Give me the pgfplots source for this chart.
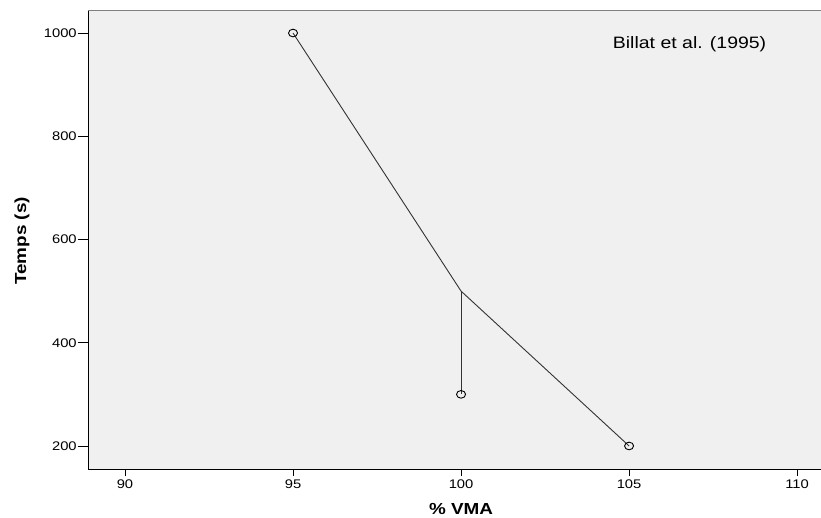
\documentclass[border=0pt]{standalone}
\usepackage{pgfplots}
\pgfplotsset{compat=1.18}
\usepackage{fontspec}
\setmainfont{Liberation Sans}[FakeStretch=1.18]
\definecolor{panel}{HTML}{F0F0F0}
\definecolor{curve}{HTML}{333333}
\begin{document}
\begin{tikzpicture}
\begin{axis}[
  scale only axis,
  width=733pt, height=459pt,
  xmin=88.9, xmax=110.71,
  ymin=155.4, ymax=1044.6,
  axis background/.style={fill=panel},
  axis x line=bottom, axis y line=left,
  axis line style={-, black, line width=0.9pt},
  xtick={90,95,100,105,110},
  ytick={200,400,600,800,1000},
  tick align=outside,
  xtick style={black, line width=0.9pt, /pgfplots/major tick length=7pt},
  ytick style={black, line width=0.9pt, /pgfplots/major tick length=10pt},
  tick label style={font=\fontsize{12.5}{14}\selectfont},
  /pgf/number format/assume math mode=true,
  /pgf/number format/set thousands separator={},
  xticklabel style={yshift=-2.5pt},
  yticklabel style={xshift=-3.5pt},
  xlabel={\bfseries\% VMA},
  ylabel={\bfseries Temps (s)},
  label style={font=\fontsize{16}{18}\selectfont},
  xlabel style={at={(axis description cs:0.509,0)}, anchor=center, yshift=-40pt},
  ylabel style={at={(axis description cs:0,0.497)}, anchor=center, yshift=66pt},
  clip=false,
]
% connecting line through the series
\addplot[curve, line width=0.9pt, no marks] coordinates {(95,1000) (100,500) (105,200)};
\addplot[curve, line width=0.9pt, no marks] coordinates {(100,500) (100,300)};
% observed points
\addplot[only marks, mark=o, mark size=4.5pt, mark options={black, line width=0.9pt, yscale=0.85}]
  coordinates {(95,1000) (100,300) (105,200)};
\draw[gray, line width=0.8pt] (rel axis cs:0,1) -- (rel axis cs:1,1);
\node[font=\fontsize{16.5}{18}\selectfont, anchor=center] at (axis cs:106.8,978.7) {Billat et al. (1995)};
\end{axis}
\pgfresetboundingbox
\path[use as bounding box] (-88pt,-49pt) rectangle (733pt,469pt);
\end{tikzpicture}
\end{document}
